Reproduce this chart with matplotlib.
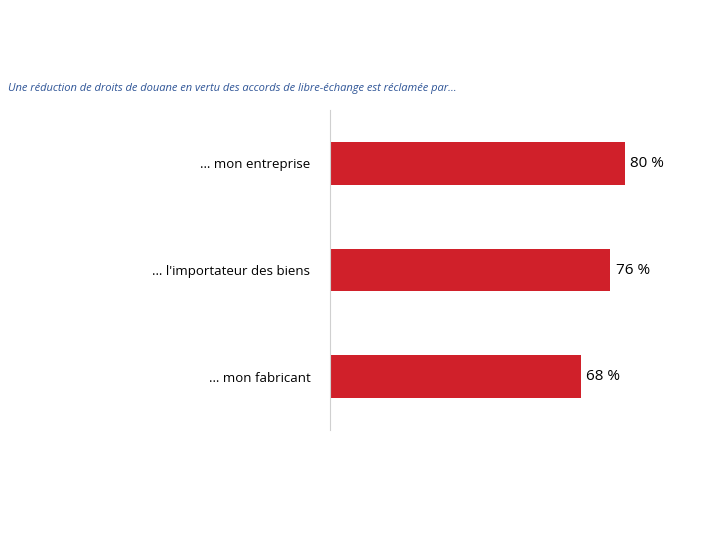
import matplotlib.pyplot as plt

# data
categories = ["… mon entreprise", "… l'importateur des biens", "… mon fabricant"]
values = [80, 76, 68]
value_labels = ["80 %", "76 %", "68 %"]

plt.rcParams['font.family'] = ['Open Sans', 'DejaVu Sans']

fig = plt.figure(figsize=(7.2, 5.4), dpi=100)
ax = fig.add_axes([0.458, 0.2037, 0.5125, 0.5926])

ypos = list(range(len(categories)))
ax.barh(ypos, values, height=0.4, color='#D0202A')
ax.set_xlim(0, 100)
ax.set_ylim(2.5, -0.5)
ax.set_yticks(ypos)
ax.set_yticklabels(categories, fontsize=9.5)
ax.tick_params(axis='y', length=0, pad=14)
ax.set_xticks([])
for s in ['top', 'right', 'bottom']:
    ax.spines[s].set_visible(False)
ax.spines['left'].set_color('#D0D0D0')

for y, v, lab in zip(ypos, values, value_labels):
    ax.text(v + 1.5, y, lab, va='center', ha='left', fontsize=11)

fig.text(8 / 720, 1 - 88 / 540,
         "Une réduction de droits de douane en vertu des accords de libre-échange est réclamée par…",
         fontsize=8, style='italic', color='#2F5597', va='center', ha='left')

fig.savefig("out.png", dpi=100)
